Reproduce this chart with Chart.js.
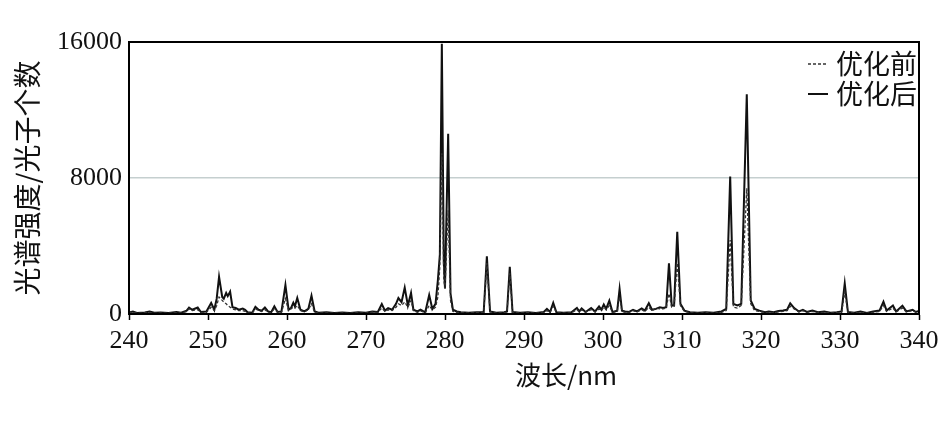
<!DOCTYPE html>
<html>
<head>
<meta charset="utf-8">
<script src="https://cdn.jsdelivr.net/npm/chart.js@4/dist/chart.umd.min.js"></script>
<style>
  html, body { margin: 0; padding: 0; background: #fff; }
  #wrap { width: 945px; height: 425px; }
</style>
</head>
<body>
<div id="wrap"><canvas id="spectrum" width="945" height="425"></canvas></div>
<script>
// wavelength (nm) and photon counts
const wavelengths = [
  240.0, 240.5, 241.0, 242.0, 242.6, 243.2, 244.0, 245.0, 246.0, 246.6,
  247.3, 247.6, 248.0, 248.7, 249.1, 249.8, 250.4, 250.8, 251.1, 251.4,
  251.8, 252.0, 252.3, 252.5, 252.8, 253.1, 253.5, 253.9, 254.4, 254.7,
  255.0, 255.6, 256.0, 256.4, 256.8, 257.2, 257.6, 258.0, 258.4, 258.8,
  259.3, 259.8, 260.2, 260.5, 260.8, 261.0, 261.3, 261.7, 262.2, 262.7,
  263.1, 263.5, 264.0, 265.0, 266.0, 267.0, 268.0, 269.0, 270.0, 270.8,
  271.5, 272.0, 272.4, 272.8, 273.3, 273.8, 274.1, 274.5, 274.9, 275.3,
  275.7, 276.0, 276.5, 276.9, 277.5, 278.0, 278.4, 278.8, 279.1, 279.35,
  279.6, 279.85, 280.0, 280.4, 280.7, 281.0, 281.5, 282.0, 283.0, 284.0,
  284.9, 285.3, 285.7, 286.5, 287.5, 287.85, 288.2, 288.55, 289.5, 290.5,
  291.5, 292.5, 292.9, 293.3, 293.7, 294.1, 295.0, 296.0, 296.7, 297.0,
  297.3, 297.8, 298.5, 299.0, 299.5, 299.8, 300.1, 300.4, 300.8, 301.2,
  301.8, 302.1, 302.4, 302.8, 303.3, 303.8, 304.3, 304.9, 305.3, 305.8,
  306.2, 306.7, 307.2, 307.6, 308.0, 308.35, 308.7, 309.0, 309.4, 309.8,
  310.3, 311.0, 312.0, 313.0, 314.0, 315.0, 315.6, 316.1, 316.5, 317.0,
  317.5, 318.2, 318.7, 319.2, 319.8, 320.5, 321.0, 321.6, 322.2, 322.8,
  323.3, 323.7, 324.2, 324.8, 325.3, 325.8, 326.5, 327.2, 328.0, 328.8,
  329.6, 330.2, 330.6, 331.0, 331.8, 332.6, 333.4, 334.2, 335.0, 335.5,
  335.9, 336.7, 337.1, 337.9, 338.4, 339.2, 339.6, 340.0
];

const afterOpt = [
  80, 150, 60, 90, 150, 70, 90, 60, 120, 80,
  200, 380, 250, 380, 120, 150, 650, 250, 900, 2180,
  1000, 900, 1240, 1050, 1310, 400, 350, 250, 320, 250,
  100, 80, 420, 250, 200, 380, 150, 100, 450, 120,
  150, 1700, 250, 350, 660, 450, 940, 250, 150, 300,
  1080, 150, 80, 100, 60, 90, 60, 100, 70, 150,
  120, 590, 200, 350, 250, 600, 940, 700, 1550, 500,
  1240, 250, 150, 250, 100, 1120, 300, 600, 2000, 3500,
  15900, 3000, 1500, 10600, 1200, 250, 150, 100, 80, 100,
  120, 3400, 150, 80, 100, 150, 2780, 120, 80, 100,
  60, 120, 300, 120, 660, 100, 80, 100, 350, 150,
  330, 120, 350, 150, 450, 250, 560, 300, 780, 120,
  200, 1470, 200, 150, 120, 250, 150, 330, 200, 630,
  250, 300, 400, 350, 400, 2980, 500, 500, 4840, 600,
  200, 100, 80, 100, 80, 150, 300, 8080, 600, 500,
  600, 12920, 800, 300, 200, 100, 150, 100, 180, 200,
  250, 630, 350, 150, 250, 120, 200, 100, 150, 80,
  100, 150, 1800, 120, 80, 150, 60, 150, 200, 720,
  200, 500, 150, 480, 150, 250, 120, 180
];

const beforeOpt = [
  60, 100, 50, 60, 100, 50, 60, 50, 80, 60,
  150, 300, 200, 250, 100, 100, 400, 200, 500, 1000,
  800, 700, 600, 500, 400, 300, 250, 200, 200, 150,
  80, 60, 300, 200, 150, 250, 100, 80, 300, 100,
  100, 900, 200, 300, 400, 350, 500, 200, 120, 250,
  600, 100, 60, 70, 50, 60, 50, 70, 50, 120,
  100, 350, 150, 250, 200, 400, 600, 500, 700, 400,
  800, 200, 100, 180, 80, 500, 250, 400, 1000, 2800,
  9450, 2000, 1500, 6100, 800, 150, 100, 80, 60, 80,
  100, 3000, 120, 60, 80, 120, 2400, 100, 60, 80,
  50, 100, 200, 100, 450, 80, 60, 80, 250, 120,
  250, 100, 250, 120, 300, 200, 400, 250, 500, 100,
  150, 1000, 150, 100, 100, 200, 120, 250, 150, 400,
  200, 350, 300, 300, 350, 1200, 400, 450, 3000, 500,
  150, 80, 60, 80, 60, 100, 200, 4350, 400, 350,
  500, 7400, 600, 200, 150, 80, 100, 80, 120, 150,
  200, 450, 300, 120, 200, 100, 150, 80, 100, 60,
  80, 100, 1300, 100, 60, 100, 50, 100, 150, 500,
  150, 350, 120, 350, 120, 200, 100, 150
];

const seriesNames = ['优化前', '优化后'];
const yTickValues = [0, 8000, 16000];
const xTitle = '波长/nm';
const yTitle = '光谱强度/光子个数';

const cjk = '"Noto Sans CJK SC", "Noto Sans", sans-serif';
const serif = '"Liberation Serif", "DejaVu Serif", serif';

// frame, x title and legend drawn on top of the plot
const decor = {
  id: 'decor',
  afterDatasetsDraw(chart) {
    const { ctx, chartArea: a } = chart;
    ctx.save();
    ctx.strokeStyle = '#000';
    ctx.lineWidth = 2;
    ctx.strokeRect(a.left, a.top, a.right - a.left, a.bottom - a.top);

    ctx.fillStyle = '#111';
    ctx.font = '26px ' + cjk;
    ctx.textBaseline = 'middle';
    ctx.textAlign = 'center';
    ctx.fillText(xTitle, 566, 375);

    // legend
    ctx.textAlign = 'left';
    ctx.font = '27px ' + cjk;
    const rows = [64, 94];
    chart.data.datasets.forEach((ds, i) => {
      const y = rows[i];
      ctx.strokeStyle = ds.borderColor;
      ctx.lineWidth = ds.borderWidth;
      ctx.setLineDash(ds.borderDash || []);
      ctx.beginPath();
      ctx.moveTo(a.right - 111, y);
      ctx.lineTo(a.right - 91, y);
      ctx.stroke();
      ctx.setLineDash([]);
      ctx.fillText(ds.label, a.right - 83, y);
    });
    ctx.restore();
  }
};

new Chart(document.getElementById('spectrum'), {
  type: 'line',
  data: {
    datasets: [
      {
        label: seriesNames[0],
        data: wavelengths.map((w, i) => ({ x: w, y: beforeOpt[i] })),
        borderColor: '#333',
        borderWidth: 1.3,
        borderDash: [3, 2],
        pointRadius: 0,
        tension: 0
      },
      {
        label: seriesNames[1],
        data: wavelengths.map((w, i) => ({ x: w, y: afterOpt[i] })),
        borderColor: '#111',
        borderWidth: 2,
        pointRadius: 0,
        tension: 0
      }
    ]
  },
  options: {
    responsive: false,
    animation: false,
    layout: { padding: { left: 0, top: 42, right: 26, bottom: 0 } },
    plugins: {
      legend: { display: false },
      tooltip: { enabled: false }
    },
    scales: {
      x: {
        type: 'linear',
        min: 240,
        max: 340,
        afterFit: s => { s.height = 111; },
        ticks: {
          stepSize: 10,
          padding: 6,
          color: '#111',
          font: { family: serif, size: 26 }
        },
        grid: {
          drawOnChartArea: false,
          tickLength: 6,
          tickWidth: 1.5,
          tickColor: '#000'
        },
        border: { color: '#000', width: 2 }
      },
      y: {
        min: 0,
        max: 16000,
        afterFit: s => { s.width = 129; },
        afterBuildTicks: s => { s.ticks = yTickValues.map(v => ({ value: v })); },
        ticks: {
          padding: 7,
          color: '#111',
          font: { family: serif, size: 26 },
          callback: v => String(v)
        },
        grid: {
          drawTicks: false,
          color: c => (c.tick && c.tick.value === 8000 ? '#c5cfcf' : 'rgba(0,0,0,0)'),
          lineWidth: 1.5
        },
        border: { color: '#000', width: 2 },
        title: {
          display: true,
          text: yTitle,
          color: '#111',
          padding: { top: 11, bottom: 0 },
          font: { family: cjk, size: 28 }
        }
      }
    }
  },
  plugins: [decor]
});
</script>
</body>
</html>
